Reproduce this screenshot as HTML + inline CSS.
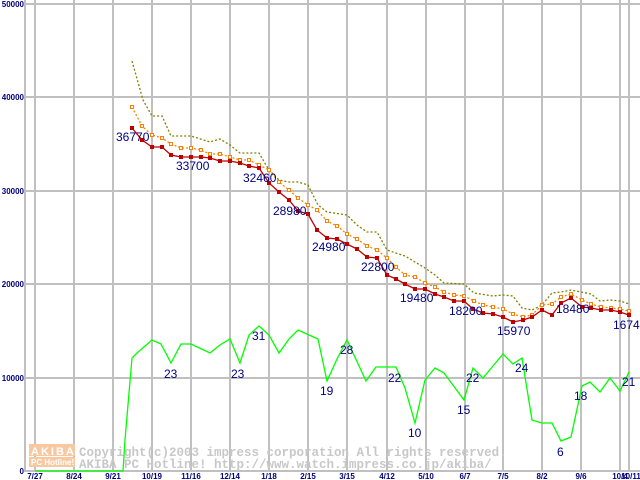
<!DOCTYPE html>
<html><head><meta charset="utf-8"><style>
html,body{margin:0;padding:0;background:#fff;}
svg{display:block;}
.t{font-family:"Liberation Sans",sans-serif;font-size:8px;font-weight:bold;fill:#000080;}
.l{font-family:"Liberation Sans",sans-serif;font-size:12px;fill:#000080;}
.w{font-family:"Liberation Mono",monospace;font-size:12.5px;font-weight:bold;fill:#c8c8c8;}
</style></head><body>
<svg width="640" height="480" viewBox="0 0 640 480">
<rect width="640" height="480" fill="#fff"/>
<g stroke="#c0c0c0" stroke-width="2" fill="none">
<line x1="25" y1="4" x2="640" y2="4"/>
<line x1="25" y1="97" x2="640" y2="97"/>
<line x1="25" y1="191" x2="640" y2="191"/>
<line x1="25" y1="284" x2="640" y2="284"/>
<line x1="25" y1="378" x2="640" y2="378"/>
<line x1="25" y1="0" x2="25" y2="472"/>
<line x1="35" y1="0" x2="35" y2="472"/><line x1="74" y1="0" x2="74" y2="472"/><line x1="113" y1="0" x2="113" y2="472"/><line x1="152" y1="0" x2="152" y2="472"/><line x1="191" y1="0" x2="191" y2="472"/><line x1="230" y1="0" x2="230" y2="472"/><line x1="269" y1="0" x2="269" y2="472"/><line x1="308" y1="0" x2="308" y2="472"/><line x1="347" y1="0" x2="347" y2="472"/><line x1="387" y1="0" x2="387" y2="472"/><line x1="426" y1="0" x2="426" y2="472"/><line x1="465" y1="0" x2="465" y2="472"/><line x1="503" y1="0" x2="503" y2="472"/><line x1="542" y1="0" x2="542" y2="472"/><line x1="581" y1="0" x2="581" y2="472"/><line x1="620" y1="0" x2="620" y2="472"/><line x1="629" y1="0" x2="629" y2="472"/>
<line x1="25" y1="471" x2="640" y2="471"/>
</g>
<g class="t" text-anchor="end">
<text x="24" y="7">50000</text><text x="24" y="100">40000</text><text x="24" y="194">30000</text><text x="24" y="287">20000</text><text x="24" y="381">10000</text><text x="24" y="474">0</text>
</g>
<g class="t" text-anchor="middle">
<text x="35" y="479">7/27</text><text x="74" y="479">8/24</text><text x="113" y="479">9/21</text><text x="152" y="479">10/19</text><text x="191" y="479">11/16</text><text x="230" y="479">12/14</text><text x="269" y="479">1/18</text><text x="308" y="479">2/15</text><text x="347" y="479">3/15</text><text x="387" y="479">4/12</text><text x="426" y="479">5/10</text><text x="465" y="479">6/7</text><text x="503" y="479">7/5</text><text x="542" y="479">8/2</text><text x="581" y="479">9/6</text><text x="620" y="479">10/4</text><text x="631" y="479">10/11</text>
</g>
<rect x="29" y="444" width="46" height="12" fill="#f8c8a0"/>
<rect x="29" y="457" width="46" height="10" fill="#f8c8a0"/>
<text x="31" y="455" font-family="Liberation Sans,sans-serif" font-size="11" font-weight="bold" fill="#fff" letter-spacing="2">AKIBA</text>
<text x="31" y="465" font-family="Liberation Sans,sans-serif" font-size="8" font-weight="bold" fill="#fff">PC Hotline!</text>
<text class="w" x="79" y="456">Copyright(c)2003 impress corporation All rights reserved.</text>
<text class="w" x="79" y="468">AKIBA PC Hotline!  http://www.watch.impress.co.jp/akiba/</text>
<polyline fill="none" stroke="#00ff00" stroke-width="1.3" points="35,471 123,471 125,440 132,358 137,353 152,340 161,344 171,363 181,344 191,344 210,353 220,345 230,339 240,363 249,335 259,326 269,335 279,353 289,339 298,330 318,339 327,381 337,359 347,340 366,381 376,367 396,367 405,388 415,423 425,380 435,368 444,373 464,400 473,368 483,378 493,366 503,354 513,364 522,358 532,420 542,423 552,423 561,441 571,437 582,386 590,382 600,392 610,378 620,391 629,372"/>
<polyline fill="none" stroke="#808000" stroke-width="1.3" stroke-dasharray="2,2" points="132,61 143,100 152,116 162,116 171,136 191,136 210,142 220,139 230,145 240,153 259,153 269,170 279,180 289,182 298,182 308,185 318,205 327,212 347,215 357,225 367,232 377,232 387,250 405,256 425,268 435,275 444,283 464,284 474,293 493,296 503,295 513,296 522,308 532,310 542,305 552,293 561,292 571,290 581,292 591,294 600,301 610,300 620,301 629,304"/>
<polyline fill="none" stroke="#ff8000" stroke-width="1.3" stroke-dasharray="2,2" points="132,107 142,126 152,135 162,138 171,144 181,148 191,148 201,150 210,154 220,154 230,157 240,160 249,160 259,165 269,170 279,182 289,190 298,198 308,205 317,210 327,221 337,226 347,234 357,239 367,246 377,250 387,258 396,267 405,275 415,277 425,283 435,287 444,292 454,295 464,296 474,301 483,305 493,307 503,309 513,314 523,317 532,315 542,305 552,304 561,297 571,294 582,300 591,304 601,307 611,308 620,309 629,311"/>
<polyline fill="none" stroke="#c00000" stroke-width="1.3" points="132,128 142,140 152,147 162,147 171,155 181,157 191,157 201,157 210,158 220,161 230,161 240,163 249,166 259,168 269,183 279,192 289,200 298,211 308,214 317,230 327,238 337,239 347,244 357,249 367,257 377,258 387,275 396,279 405,284 415,289 425,289 435,294 444,297 454,301 464,301 473,309 483,313 493,314 503,317 513,322 523,320 532,317 542,310 552,315 561,303 571,298 582,307 591,308 601,310 611,310 620,312 629,315"/>
<g class="l">
<text x="116" y="141">36770</text><text x="176" y="170">33700</text><text x="243" y="182">32460</text><text x="273" y="215">28980</text><text x="312" y="251">24980</text><text x="361" y="271">22800</text><text x="400" y="302">19480</text><text x="449" y="315">18200</text><text x="497" y="335">15970</text><text x="556" y="313">18480</text><text x="613" y="329">16740</text>
<text x="164" y="378">23</text><text x="231" y="378">23</text><text x="252" y="340">31</text><text x="320" y="395">19</text><text x="340" y="354">28</text><text x="388" y="382">22</text><text x="408" y="437">10</text><text x="457" y="414">15</text><text x="466" y="382">22</text><text x="515" y="372">24</text><text x="557" y="456">6</text><text x="574" y="400">18</text><text x="622" y="386">21</text>
</g>
<script>
(function(){
var ns='http://www.w3.org/2000/svg';
document.querySelectorAll('polyline').forEach(function(p){
 var c=p.getAttribute('stroke'); if(c!='#ff8000'&&c!='#c00000')return;
 p.getAttribute('points').trim().split(/\s+/).forEach(function(q){var a=q.split(',');
  var r=document.createElementNS(ns,'rect');
  if(c=='#ff8000'){r.setAttribute('x',a[0]-1.5);r.setAttribute('y',a[1]-1.5);r.setAttribute('width',3);r.setAttribute('height',3);r.setAttribute('fill','#fff');r.setAttribute('stroke','#ff8000');}
  else{r.setAttribute('x',a[0]-2);r.setAttribute('y',a[1]-2);r.setAttribute('width',4);r.setAttribute('height',4);r.setAttribute('fill','#c00000');}
  p.parentNode.insertBefore(r,p.nextSibling);});
});
})();
</script>
</svg>
</body></html>
